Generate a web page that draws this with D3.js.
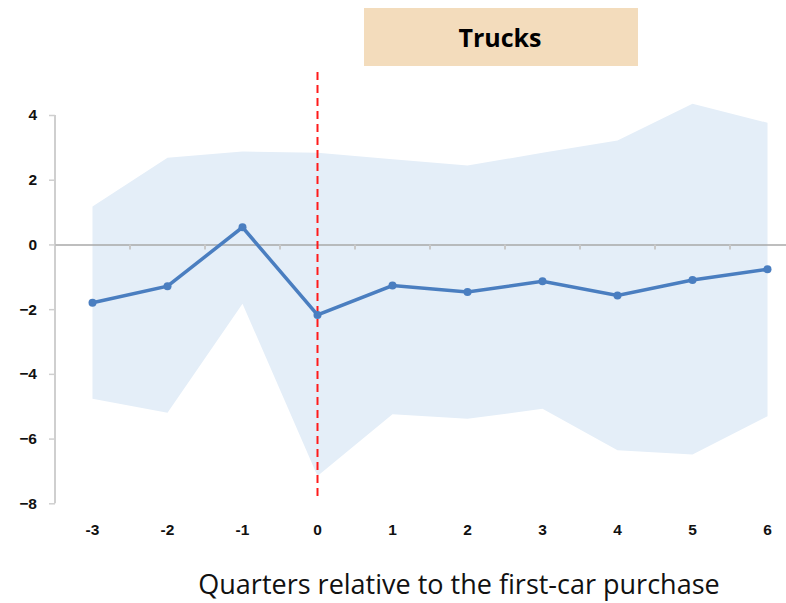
<!DOCTYPE html>
<html>
<head>
<meta charset="utf-8">
<script src="https://cdn.jsdelivr.net/npm/d3@7"></script>
<style>
  body { margin: 0; background: #fff; }
  svg { display: block; }
</style>
</head>
<body>
<svg id="chart"></svg>
<script>
// quarters relative to the first-car purchase
const quarters = [-3, -2, -1, 0, 1, 2, 3, 4, 5, 6];
const estimate = [-1.80, -1.29, 0.53, -2.18, -1.27, -1.47, -1.14, -1.58, -1.10, -0.77];
const upperCI = [1.17, 2.68, 2.87, 2.83, 2.63, 2.44, 2.83, 3.21, 4.35, 3.76];
const lowerCI = [-4.77, -5.20, -1.83, -7.16, -5.25, -5.39, -5.08, -6.36, -6.49, -5.31];
const yTicks = [4, 2, 0, -2, -4, -6, -8];
const title = "Trucks";
const xTitle = "Quarters relative to the first-car purchase";

const W = 786, H = 603;
const svg = d3.select("#chart").attr("width", W).attr("height", H);

const x = d3.scaleBand().domain(quarters).range([55, 805]);
const cx = q => x(q) + x.bandwidth() / 2;
const y = d3.scaleLinear().domain([-8, 4]).range([503.3, 115]);

const rows = quarters.map((q, i) => ({ q, est: estimate[i], hi: upperCI[i], lo: lowerCI[i] }));

// confidence band
svg.append("path")
    .datum(rows)
    .attr("fill", "#e4eef8")
    .attr("d", d3.area().x(d => cx(d.q)).y0(d => y(d.lo)).y1(d => y(d.hi)));

// y axis
const yAxis = svg.append("g")
    .attr("transform", "translate(55,0)")
    .call(d3.axisLeft(y).tickValues(yTicks).tickSize(6).tickPadding(12).tickFormat(d3.format("d")));
yAxis.select(".domain").attr("stroke", "#cfcfcf").attr("stroke-width", 2).attr("d", `M0,${y(4)}V${y(-8)}`);
yAxis.selectAll(".tick line").attr("stroke", "#cfcfcf").attr("stroke-width", 1.5);
yAxis.selectAll(".tick text")
    .attr("font-family", "'Liberation Sans', Arial, sans-serif")
    .attr("font-weight", "bold")
    .attr("font-size", 15.5)
    .attr("fill", "#111");

// zero line with small category ticks
const xAxis = svg.append("g")
    .attr("transform", `translate(0,${y(0)})`)
    .call(d3.axisBottom(x).tickSize(0).tickFormat(""));
xAxis.select(".domain").attr("stroke", "#a8a8a8").attr("stroke-width", 1.5);
xAxis.selectAll(".tick").remove();
xAxis.selectAll("line.sep")
    .data(quarters.slice(1))
    .enter().append("line")
    .attr("class", "sep")
    .attr("x1", d => x(d)).attr("x2", d => x(d))
    .attr("y1", 0).attr("y2", 5)
    .attr("stroke", "#c8c8c8")
    .attr("stroke-width", 2);

// category labels
svg.append("g").selectAll("text")
    .data(quarters)
    .enter().append("text")
    .attr("x", d => cx(d))
    .attr("y", 535)
    .attr("text-anchor", "middle")
    .attr("font-family", "'Liberation Sans', Arial, sans-serif")
    .attr("font-weight", "bold")
    .attr("font-size", 15.5)
    .attr("fill", "#111")
    .text(d => d);

// red dashed line at purchase quarter
svg.append("line")
    .attr("x1", cx(0)).attr("x2", cx(0))
    .attr("y1", 72).attr("y2", 497)
    .attr("stroke", "#ff1a1a")
    .attr("stroke-width", 2)
    .attr("stroke-dasharray", "8,5");

// estimate line
svg.append("path")
    .datum(rows)
    .attr("fill", "none")
    .attr("stroke", "#4a7ec0")
    .attr("stroke-width", 3.5)
    .attr("d", d3.line().x(d => cx(d.q)).y(d => y(d.est)));

svg.append("g").selectAll("circle")
    .data(rows)
    .enter().append("circle")
    .attr("cx", d => cx(d.q))
    .attr("cy", d => y(d.est))
    .attr("r", 4)
    .attr("fill", "#4a7ec0");

// title box
svg.append("rect")
    .attr("x", 364).attr("y", 8)
    .attr("width", 274).attr("height", 58)
    .attr("fill", "#f3dcbc");
svg.append("text")
    .attr("x", 500).attr("y", 47)
    .attr("text-anchor", "middle")
    .attr("font-family", "'Open Sans', sans-serif")
    .attr("font-weight", "bold")
    .attr("font-size", 25)
    .attr("fill", "#000")
    .text(title);

// axis title
svg.append("text")
    .attr("x", 459).attr("y", 594)
    .attr("text-anchor", "middle")
    .attr("font-family", "'Open Sans', sans-serif")
    .attr("font-size", 27)
    .attr("fill", "#111")
    .text(xTitle);
</script>
</body>
</html>
